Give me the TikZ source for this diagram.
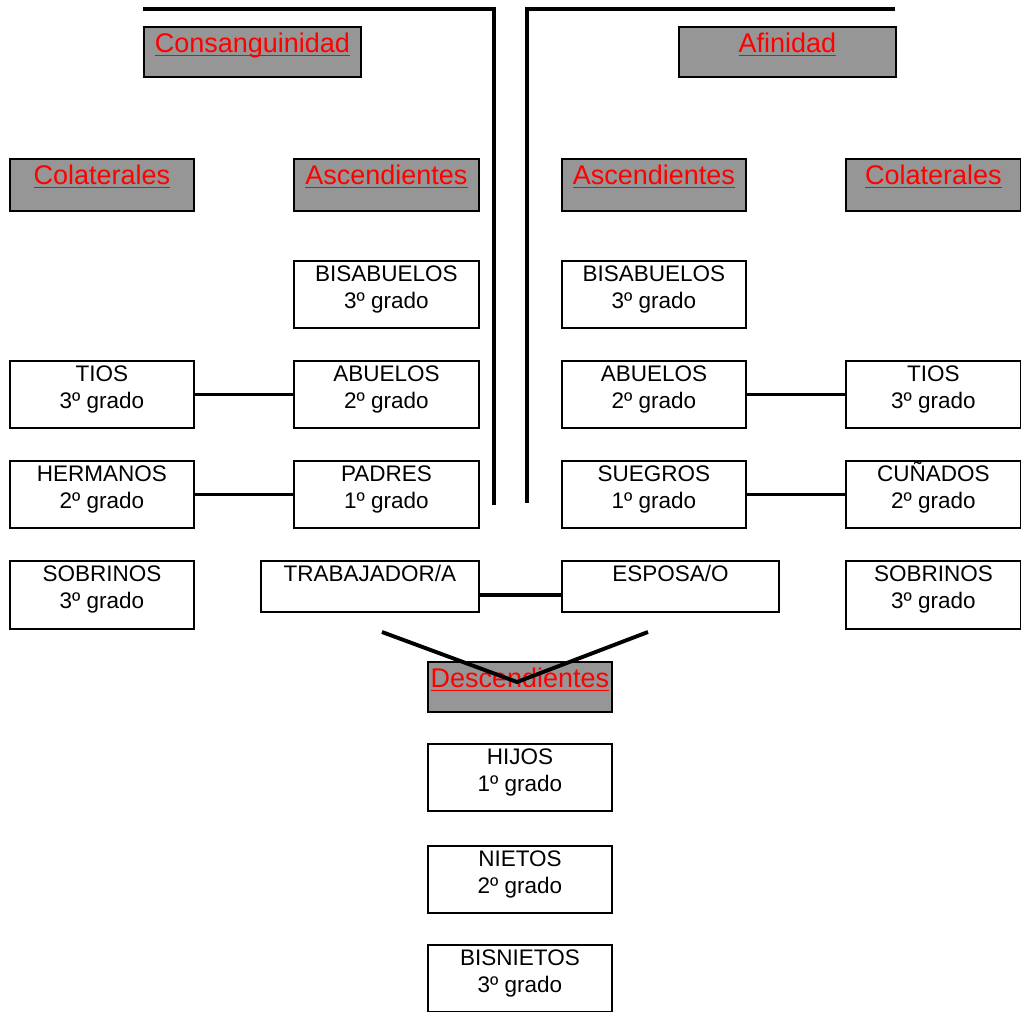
\documentclass[tikz,border=0pt]{standalone}
\usepackage{fontspec}
\setmainfont{Liberation Sans}
\definecolor{hdrgray}{HTML}{969696}
\definecolor{hdrred}{HTML}{FF0000}
\newcommand\redul[1]{\setbox0\hbox{#1}\rlap{\rule[-3.5pt]{\wd0}{1.5pt}}\box0}
\newcommand\celltxt[3]{\parbox[t][#2pt][t]{#1pt}{\centering\fontsize{22.5}{27}\selectfont\rule{0pt}{21pt}#3}}
\newcommand\hdrtxt[3]{\parbox[t][#2pt][t]{#1pt}{\centering\fontsize{27}{30}\selectfont\color{hdrred}\rule{0pt}{26pt}\redul{#3}}}
\begin{document}
\begin{tikzpicture}[x=1pt,y=-1pt,
  cell/.style={draw=black,line width=1.9pt,fill=white,inner sep=0pt,anchor=north west},
  hdr/.style={cell,fill=hdrgray},
  link/.style={line width=3.9pt,line cap=butt},
  frame/.style={line width=3.9pt,line join=miter}]
\useasboundingbox (0,0) rectangle (1021,1012);
\fill[white] (0,0) rectangle (1021,1012);
% frame lines
\coordinate (fla) at (143,9);
\coordinate (flb) at (494,9);
\coordinate (flc) at (494,505);
\coordinate (fra) at (895,9);
\coordinate (frb) at (527,9);
\coordinate (frc) at (527,503);
\draw[frame] (fla) -- (flb) -- (flc);
\draw[frame] (fra) -- (frb) -- (frc);
% headers
\node[hdr] (cons) at (143,26) {\hdrtxt{217}{50}{Consanguinidad}};
\node[hdr] (afin) at (678,26) {\hdrtxt{217}{50}{Afinidad}};
\node[hdr] (colL) at (9,158) {\hdrtxt{184}{52}{Colaterales}};
\node[hdr] (ascL) at (293,158) {\hdrtxt{185}{52}{Ascendientes}};
\node[hdr] (ascR) at (561,158) {\hdrtxt{184}{52}{Ascendientes}};
\node[hdr] (colR) at (845,158) {\hdrtxt{175}{52}{Colaterales}};
% boxes
\node[cell] (bisL) at (293,260) {\celltxt{185}{67}{BISABUELOS\\3º grado}};
\node[cell] (bisR) at (561,260) {\celltxt{184}{67}{BISABUELOS\\3º grado}};
\node[cell] (tiosL) at (9,360) {\celltxt{184}{67}{TIOS\\3º grado}};
\node[cell] (abuL) at (293,360) {\celltxt{185}{67}{ABUELOS\\2º grado}};
\node[cell] (abuR) at (561,360) {\celltxt{184}{67}{ABUELOS\\2º grado}};
\node[cell] (tiosR) at (845,360) {\celltxt{175}{67}{TIOS\\3º grado}};
\node[cell] (her) at (9,460) {\celltxt{184}{67}{HERMANOS\\2º grado}};
\node[cell] (pad) at (293,460) {\celltxt{185}{67}{PADRES\\1º grado}};
\node[cell] (sue) at (561,460) {\celltxt{184}{67}{SUEGROS\\1º grado}};
\node[cell] (cun) at (845,460) {\celltxt{175}{67}{CUÑADOS\\2º grado}};
\node[cell] (sobL) at (9,560) {\celltxt{184}{68}{SOBRINOS\\3º grado}};
\node[cell] (trab) at (260,560) {\celltxt{218}{51}{TRABAJADOR/A}};
\node[cell] (esp) at (561,560) {\celltxt{217}{51}{ESPOSA/O}};
\node[cell] (sobR) at (845,560) {\celltxt{175}{68}{SOBRINOS\\3º grado}};
\node[hdr] (desc) at (427,661) {\hdrtxt{184}{50}{Descendientes}};
\node[cell] (hijos) at (427,743) {\celltxt{184}{67}{HIJOS\\1º grado}};
\node[cell] (nietos) at (427,845) {\celltxt{184}{67}{NIETOS\\2º grado}};
\node[cell] (bisn) at (427,944) {\celltxt{184}{67}{BISNIETOS\\3º grado}};
% connectors
\draw[link] (tiosL.east) -- (abuL.west);
\draw[link] (her.east) -- (pad.west);
\draw[link] (abuR.east) -- (tiosR.west);
\draw[link] (sue.east) -- (cun.west);
\draw[link] ([yshift=-8.5pt]trab.east) -- ([yshift=-8.5pt]esp.west);
% V lines
\coordinate (vl) at (382,632);
\coordinate (vr) at (648,632);
\coordinate (vtip) at (517,682);
\draw[link] (vl) -- (vtip) -- (vr);
\end{tikzpicture}
\end{document}
